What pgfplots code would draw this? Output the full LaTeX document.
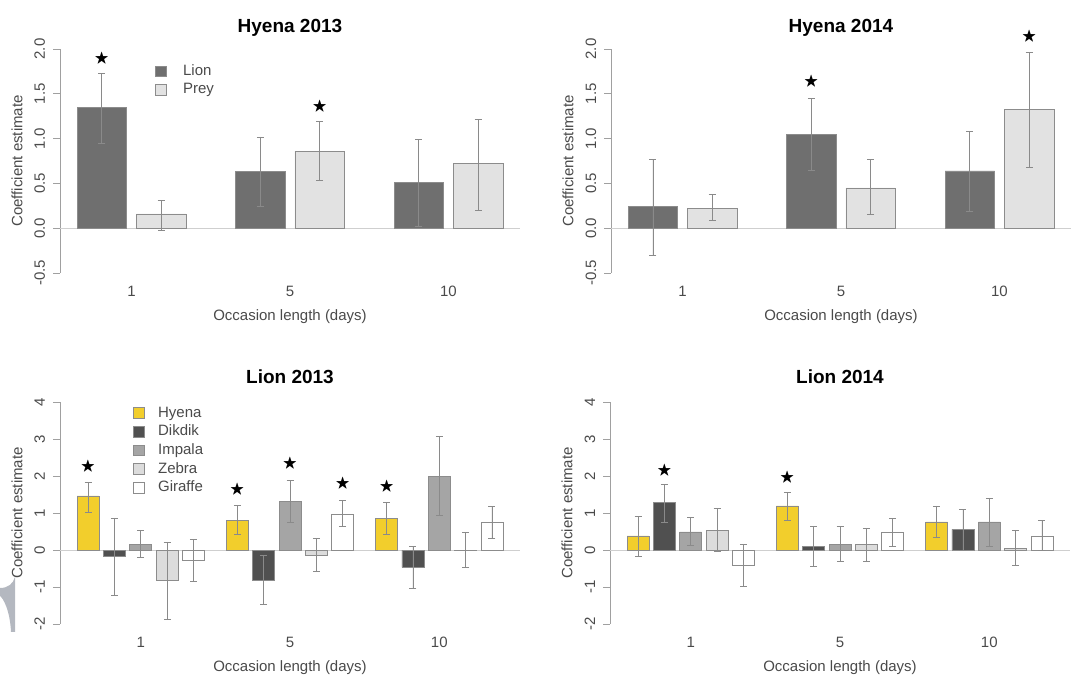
\documentclass[border=0pt]{standalone}
\usepackage{pgfplots}
\pgfplotsset{compat=1.18}
\usepackage{pgfplotstable}
\usepackage{amssymb}
\usepackage{fontspec}
\setmainfont{Liberation Sans}

\definecolor{lioncol}{HTML}{6F6F6F}
\definecolor{preycol}{HTML}{E2E2E2}
\definecolor{hyenacol}{HTML}{F2CE2C}
\definecolor{dikcol}{HTML}{505050}
\definecolor{impcol}{HTML}{A5A5A5}
\definecolor{zebcol}{HTML}{DCDCDC}
\definecolor{gircol}{HTML}{FFFFFF}
\definecolor{axcol}{HTML}{A0A0A0}
\definecolor{txtcol}{HTML}{4A4A4A}
\definecolor{zerocol}{HTML}{CFCFCF}
\definecolor{errcol}{HTML}{8A8A8A}
\definecolor{bardraw}{HTML}{8C8C8C}
\definecolor{blobcol}{HTML}{B4B8C0}

% ---------- Hyena 2013 ----------
\pgfplotstableread{
x y lo hi
1.5 1.35 0.95 1.73
4.7 0.63 0.24 1.02
7.9 0.51 0.02 0.99
}\hAlion
\pgfplotstableread{
x y lo hi
2.7 0.16 -0.02 0.31
5.9 0.86 0.54 1.19
9.1 0.72 0.20 1.21
}\hAprey
% ---------- Hyena 2014 ----------
\pgfplotstableread{
x y lo hi
1.5 0.24 -0.30 0.77
4.7 1.05 0.65 1.45
7.9 0.64 0.19 1.08
}\hBlion
\pgfplotstableread{
x y lo hi
2.7 0.22 0.09 0.38
5.9 0.45 0.16 0.77
9.1 1.33 0.68 1.96
}\hBprey
% ---------- Lion 2013 ----------
\pgfplotstableread{
x y lo hi
1.5 1.46 1.03 1.82
8.3 0.81 0.43 1.20
15.1 0.85 0.43 1.29
}\lAhyena
\pgfplotstableread{
x y lo hi
2.7 -0.18 -1.23 0.87
9.5 -0.81 -1.48 -0.14
16.3 -0.47 -1.03 0.09
}\lAdik
\pgfplotstableread{
x y lo hi
3.9 0.16 -0.20 0.54
10.7 1.32 0.76 1.89
17.5 2.00 0.94 3.07
}\lAimp
\pgfplotstableread{
x y lo hi
5.1 -0.83 -1.87 0.22
11.9 -0.13 -0.58 0.31
18.7 -0.01 -0.47 0.47
}\lAzeb
\pgfplotstableread{
x y lo hi
6.3 -0.29 -0.85 0.29
13.1 0.97 0.63 1.33
19.9 0.74 0.31 1.17
}\lAgir
% ---------- Lion 2014 ----------
\pgfplotstableread{
x y lo hi
1.5 0.38 -0.18 0.90
8.3 1.19 0.79 1.56
15.1 0.76 0.34 1.19
}\lBhyena
\pgfplotstableread{
x y lo hi
2.7 1.28 0.76 1.78
9.5 0.09 -0.43 0.63
16.3 0.56 0.00 1.10
}\lBdik
\pgfplotstableread{
x y lo hi
3.9 0.49 0.13 0.88
10.7 0.15 -0.30 0.63
17.5 0.76 0.10 1.41
}\lBimp
\pgfplotstableread{
x y lo hi
5.1 0.54 -0.04 1.12
11.9 0.15 -0.30 0.58
18.7 0.05 -0.40 0.54
}\lBzeb
\pgfplotstableread{
x y lo hi
6.3 -0.40 -0.99 0.16
13.1 0.49 0.11 0.85
19.9 0.38 -0.02 0.81
}\lBgir

\pgfplotsset{
  base/.style={
    scale only axis, width=460pt, clip=false,
    axis x line*=bottom, axis y line*=left,
    axis line style={-},
    x axis line style={draw=none},
    y axis line style={draw=axcol, line width=0.6pt},
    xtick style={draw=none},
    ytick style={draw=axcol, line width=0.6pt},
    tick align=outside, major tick length=7pt,
    font=\fontsize{15}{18}\selectfont,
    tick label style={text=txtcol},
    label style={text=txtcol},
    yticklabel style={rotate=90, anchor=base, yshift=8pt},
    xticklabel style={anchor=base, yshift=-16.5pt},
    ylabel={Coefficient estimate},
    xlabel={Occasion length (days)},
    ylabel style={at={(axis description cs:-0.0935,0.5)}, anchor=center},
    title style={font=\bfseries\fontsize{19}{23}\selectfont, anchor=base, text=black},
    /pgf/number format/assume math mode=true,
    legend style={draw=none, fill=none, inner sep=0pt, outer sep=0pt,
      row sep=0pt, font=\fontsize{15}{18}\selectfont, text=txtcol,
      nodes={inner sep=1.85pt, text height=11pt, text depth=4pt}},
    legend cell align=left,
  },
  top/.style={base, height=224pt, ymin=-0.5, ymax=2, xmin=0.656, xmax=9.944,
    ytick={-0.5,0,0.5,1,1.5,2}, yticklabels={-0.5,0.0,0.5,1.0,1.5,2.0},
    xtick={2.1,5.3,8.5}, xticklabels={1,5,10},
    xlabel style={at={(axis description cs:0.5,-0.212)}, anchor=base},
    title style={at={(axis description cs:0.5,1.045)}},
    legend image code/.code={\path[draw=none, fill=none] (0pt,0pt) -- (26pt,0pt);
      \draw[##1, draw=bardraw, line width=0.5pt] (0pt,-4.5pt) rectangle (11pt,6pt);},
  },
  bot/.style={base, height=222pt, ymin=-2, ymax=4, xmin=0.224, xmax=21.176,
    ytick={-2,-1,0,1,2,3,4}, yticklabels={-2,-1,0,1,2,3,4},
    xtick={3.9,10.7,17.5}, xticklabels={1,5,10},
    xlabel style={at={(axis description cs:0.5,-0.216)}, anchor=base},
    title style={at={(axis description cs:0.5,1.056)}},
    legend image code/.code={\path[draw=none, fill=none] (0pt,0pt) -- (23pt,0pt);
      \draw[##1, draw=bardraw, line width=0.5pt] (0pt,-4.5pt) rectangle (11pt,6pt);},
  },
  barp/.style={ybar, bar width=1, bar shift=0pt, draw=bardraw, line width=0.5pt, fill=#1,
    error bars/.cd, y dir=both, y explicit,
    error bar style={errcol, line width=0.6pt},
    error mark options={rotate=90, errcol, mark size=3.5pt, line width=0.6pt}},
  starp/.style={only marks, mark=text,
    text mark={\fontsize{15}{15}\selectfont$\bigstar$}, forget plot},
}

\newcommand{\bars}[2]{\addplot[barp=#1] table[x=x, y=y,
  y error plus expr=\thisrow{hi}-\thisrow{y},
  y error minus expr=\thisrow{y}-\thisrow{lo}] {#2};}

\begin{document}
\begin{tikzpicture}
\path[use as bounding box] (0,0) rectangle (1085pt,675pt);

% Hyena 2013
\begin{axis}[top, at={(60pt,402pt)}, anchor=south west, title={Hyena 2013},
  legend style={at={(axis description cs:0.2065,0.94)}, anchor=north west}]
\addplot[zerocol, line width=0.6pt, forget plot] coordinates {(0.656,0) (9.944,0)};
\bars{lioncol}{\hAlion}
\addlegendentry{Lion}
\bars{preycol}{\hAprey}
\addlegendentry{Prey}
\addplot[starp] coordinates {(1.5,1.89) (5.9,1.35)};
\end{axis}

% Hyena 2014
\begin{axis}[top, at={(611pt,402pt)}, anchor=south west, title={Hyena 2014}]
\addplot[zerocol, line width=0.6pt, forget plot] coordinates {(0.656,0) (9.944,0)};
\bars{lioncol}{\hBlion}
\bars{preycol}{\hBprey}
\addplot[starp] coordinates {(4.7,1.63) (9.1,2.14)};
\end{axis}

% Lion 2013
\begin{axis}[bot, at={(60pt,51pt)}, anchor=south west, title={Lion 2013},
  legend style={at={(axis description cs:0.1587,0.99)}, anchor=north west}]
\addplot[zerocol, line width=0.6pt, forget plot] coordinates {(0.224,0) (21.176,0)};
\bars{hyenacol}{\lAhyena}
\addlegendentry{Hyena}
\bars{dikcol}{\lAdik}
\addlegendentry{Dikdik}
\bars{impcol}{\lAimp}
\addlegendentry{Impala}
\bars{zebcol}{\lAzeb}
\addlegendentry{Zebra}
\bars{gircol}{\lAgir}
\addlegendentry{Giraffe}
\addplot[starp] coordinates {(1.5,2.25) (8.3,1.62) (10.7,2.34) (13.1,1.80) (15.1,1.71)};
\end{axis}

% Lion 2014
\begin{axis}[bot, at={(610pt,51pt)}, anchor=south west, title={Lion 2014}]
\addplot[zerocol, line width=0.6pt, forget plot] coordinates {(0.224,0) (21.176,0)};
\bars{hyenacol}{\lBhyena}
\bars{dikcol}{\lBdik}
\bars{impcol}{\lBimp}
\bars{zebcol}{\lBzeb}
\bars{gircol}{\lBgir}
\addplot[starp] coordinates {(2.7,2.14) (8.3,1.95)};
\end{axis}

% grey artefact at the lower left edge
\fill[blobcol] (15pt,98pt) -- (15pt,43pt) -- (11pt,43pt)
  .. controls (10pt,65pt) and (3pt,77pt) .. (0pt,79pt) -- (0pt,87pt)
  .. controls (8pt,87pt) and (13pt,91pt) .. (15pt,98pt) -- cycle;
\end{tikzpicture}
\end{document}
